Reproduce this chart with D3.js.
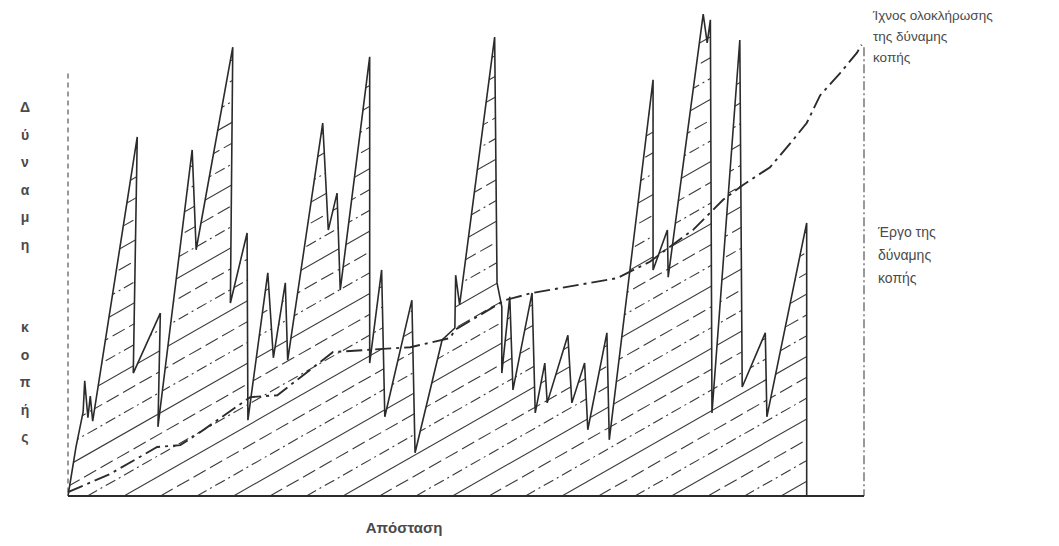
<!DOCTYPE html>
<html>
<head>
<meta charset="utf-8">
<script src="https://cdn.jsdelivr.net/npm/d3@7"></script>
<style>
  html, body { margin: 0; padding: 0; background: #fff; }
  svg { display: block; }
  text { font-family: "Liberation Sans", Arial, sans-serif; fill: #4a4a4a; }
</style>
</head>
<body>
<div id="chart"></div>
<script>
// force trace (distance, force), arbitrary units 0..100
const forceDistance = [0, 1.0, 1.9, 2.1, 2.5, 2.8, 3.1, 8.7, 8.2, 11.6, 11.3, 15.6, 16.1, 20.7, 20.4, 22.5, 22.6,
  25.1, 25.8, 27.3, 27.6, 32.0, 32.7, 33.8, 34.2, 37.9, 37.9, 39.4, 39.8, 43.2, 43.6, 47.0, 48.6, 48.7, 49.2,
  53.6, 53.9, 54.5, 54.5, 55.5, 55.9, 58.3, 58.7, 59.9, 60.2, 62.8, 63.3, 64.9, 65.3, 67.7, 68.0,
  73.5, 73.5, 75.3, 75.4, 79.8, 80.3, 80.7, 80.9, 84.4, 84.7, 87.6, 87.8, 92.8, 92.8];
const forceValue = [0, 10.2, 17.5, 24.0, 16.3, 20.8, 15.6, 74.8, 25.6, 38.1, 14.4, 72.1, 51.3, 93.5, 40.2, 54.8, 15.8,
  46.5, 28.8, 44.4, 28.3, 77.7, 55.4, 63.1, 42.9, 91.5, 27.7, 47.1, 16.5, 40.8, 9.0, 32.5, 35.0, 46.0, 39.8,
  95.6, 44.4, 39.4, 25.6, 41.5, 22.1, 42.3, 17.3, 27.7, 19.4, 33.5, 19.4, 27.7, 13.8, 34.0, 11.7,
  86.7, 47.1, 55.4, 45.6, 100.4, 94.4, 99.2, 17.3, 95.0, 22.7, 34.0, 16.5, 56.9, 0];

// integrator trace (dash-dot)
const integralDistance = [0, 5.3, 11.2, 14.1, 16.6, 22.9, 26.3, 29.1, 33.3, 43.0, 48.0, 48.6, 54.9, 58.3, 69.0,
  73.1, 77.3, 78.5, 82.3, 84.8, 88.2, 91.1, 92.8, 94.5, 97.0, 99.1, 99.7];
const integralValue = [0.8, 4.6, 10.2, 10.6, 13.3, 20.6, 21.0, 24.6, 30.0, 31.0, 32.9, 34.6, 40.8, 42.3, 45.4,
  48.8, 54.0, 55.4, 61.7, 64.8, 68.5, 74.2, 77.7, 83.5, 88.1, 92.3, 94.0];

const yAxisLetters = ['Δ', 'ύ', 'ν', 'α', 'μ', 'η', '', '', 'κ', 'ο', 'π', 'ή', 'ς'];
const xAxisLabel = 'Απόσταση';
const integralLabel = ['Ίχνος ολοκλήρωσης', 'της δύναμης', 'κοπής'];
const workLabel = ['Έργο της', 'δύναμης', 'κοπής'];

const width = 1059;
const height = 546;
const margin = {left: 68, right: 195, top: 16, bottom: 50};

const x = d3.scaleLinear().domain([0, 100]).range([margin.left, width - margin.right]);
const y = d3.scaleLinear().domain([0, 100]).range([height - margin.bottom, margin.top]);

const svg = d3.select('#chart')
  .append('svg')
  .attr('width', width)
  .attr('height', height);

const force = forceDistance.map((d, i) => [d, forceValue[i]]);
const integral = integralDistance.map((d, i) => [d, integralValue[i]]);

const line = d3.line().x(d => x(d[0])).y(d => y(d[1]));
const area = d3.area().x(d => x(d[0])).y0(y(0)).y1(d => y(d[1]));

// hatching, clipped to the area under the force trace
svg.append('clipPath')
  .attr('id', 'under-force')
  .append('path')
  .attr('d', area(force));

const slope = 0.57;
const step = 36.5;
const hatchStyles = [null, '14,5', '11,4,2,4'];
const hatchStarts = d3.range(x(0) - 17 - step * 22, x(100), step);

svg.append('g')
  .attr('clip-path', 'url(#under-force)')
  .selectAll('line')
  .data(hatchStarts)
  .join('line')
  .attr('x1', d => d)
  .attr('y1', y(0))
  .attr('x2', d => d + 900)
  .attr('y2', y(0) - 900 * slope)
  .attr('stroke', '#3a3a3a')
  .attr('stroke-width', 1.1)
  .attr('stroke-dasharray', (d, i) => hatchStyles[i % 3]);

// axes: dashed verticals, solid base
svg.append('line')
  .attr('x1', x(0)).attr('x2', x(0))
  .attr('y1', y(88)).attr('y2', y(0))
  .attr('stroke', '#555').attr('stroke-width', 1.2)
  .attr('stroke-dasharray', '5,4');

svg.append('line')
  .attr('x1', x(100)).attr('x2', x(100))
  .attr('y1', y(93.5)).attr('y2', y(0))
  .attr('stroke', '#555').attr('stroke-width', 1.2)
  .attr('stroke-dasharray', '9,3,2,3');

svg.append('line')
  .attr('x1', x(0)).attr('x2', x(100))
  .attr('y1', y(0)).attr('y2', y(0))
  .attr('stroke', '#2b2b2b').attr('stroke-width', 1.8);

svg.append('path')
  .attr('d', line(force))
  .attr('fill', 'none')
  .attr('stroke', '#2b2b2b')
  .attr('stroke-width', 1.6)
  .attr('stroke-linejoin', 'miter');

svg.append('path')
  .attr('d', line(integral))
  .attr('fill', 'none')
  .attr('stroke', '#2b2b2b')
  .attr('stroke-width', 1.9)
  .attr('stroke-dasharray', '16,5,3,5');

// labels
svg.append('g')
  .selectAll('text')
  .data(yAxisLetters)
  .join('text')
  .attr('x', 25)
  .attr('y', (d, i) => 112 + i * 27.5)
  .attr('text-anchor', 'middle')
  .style('font-size', '14px')
  .style('font-weight', 'bold')
  .text(d => d);

svg.append('text')
  .attr('x', 404)
  .attr('y', 533)
  .attr('text-anchor', 'middle')
  .style('font-size', '15px')
  .style('font-weight', 'bold')
  .text(xAxisLabel);

svg.append('g')
  .selectAll('text')
  .data(integralLabel)
  .join('text')
  .attr('x', 873)
  .attr('y', (d, i) => 20 + i * 21)
  .style('font-size', '13.5px')
  .text(d => d);

svg.append('g')
  .selectAll('text')
  .data(workLabel)
  .join('text')
  .attr('x', 878)
  .attr('y', (d, i) => 237 + i * 23)
  .style('font-size', '14px')
  .text(d => d);
</script>
</body>
</html>
